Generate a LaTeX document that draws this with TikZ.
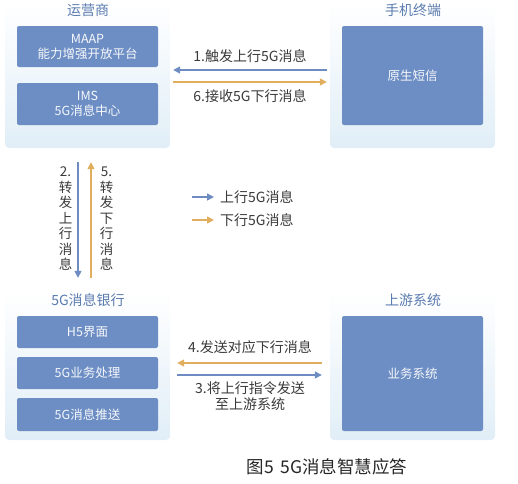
\documentclass[tikz,border=0pt]{standalone}
\usepackage{fontspec}
\setmainfont{Noto Sans CJK SC}
\usepackage{xcolor}
\usepackage{tikz}
\usetikzlibrary{positioning,arrows.meta}
\definecolor{BoxBlue}{HTML}{6D8EC4}
\definecolor{FlowBlue}{HTML}{6E8CC2}
\definecolor{FlowGold}{HTML}{E1AE5E}
\definecolor{TitleBlue}{HTML}{5B7CB0}
\definecolor{PanelBlue}{HTML}{E1EEF7}
\definecolor{LabelGray}{HTML}{3A3A3A}

\begin{document}
\begin{tikzpicture}[
  x=1pt, y=-1pt,
  panel/.style={rounded corners=4pt, top color=white, bottom color=PanelBlue, minimum width=165pt, inner sep=0pt},
  unit/.style={fill=BoxBlue, rounded corners=2pt, minimum width=141pt, inner sep=0pt, align=center, text=white!94!BoxBlue, font=\fontsize{12.5}{15}\selectfont},
  title/.style={text=TitleBlue, font=\fontsize{14}{16}\selectfont},
  msg/.style={text=LabelGray, align=center, font=\fontsize{14}{16}\selectfont},
  vmsg/.style={text=LabelGray, align=center, inner sep=1pt, font=\fontsize{13.5}{15.5}\selectfont},
  uparrow/.style={-{Triangle[length=7pt,width=7pt]}, line width=1.5pt, draw=FlowBlue},
  downarrow/.style={-{Triangle[length=7pt,width=7pt]}, line width=1.5pt, draw=FlowGold}
]
\useasboundingbox (0,0) rectangle (518,483);

% panels
\node[panel, minimum height=146pt] (operator) at (87.5,75) {};
\node[panel, minimum height=146pt] (phone) at (412.5,75) {};
\node[panel, minimum height=150pt] (bank) at (87.5,365) {};
\node[panel, minimum height=150pt] (upstream) at (412.5,365) {};

\node[title] (operatortitle) at (88,10) {运营商};
\node[title] (phonetitle) at (413,10) {手机终端};
\node[title] (banktitle) at (88,300) {5G消息银行};
\node[title] (upstreamtitle) at (413,300) {上游系统};

% inner units
\node[unit, minimum height=41pt] (maap) at (87.5,46.5) {MAAP\\能力增强开放平台};
\node[unit, minimum height=42pt] (ims) at (87.5,104) {IMS\\5G消息中心};
\node[unit, minimum height=99pt] (sms) at (412.5,75.5) {原生短信};
\node[unit, minimum height=32pt] (h5) at (87.5,332) {H5界面};
\node[unit, minimum height=32pt] (service) at (87.5,373) {5G业务处理};
\node[unit, minimum height=33pt] (push) at (87.5,414.5) {5G消息推送};
\node[unit, minimum height=115pt] (business) at (412.5,373.5) {业务系统};

% flows
\draw[uparrow, shorten <=3pt, shorten >=3pt] ([yshift=5pt]phone.west) -- ([yshift=5pt]operator.east)
  node[msg, midway, above=3pt] {1.触发上行5G消息};
\draw[downarrow, shorten <=3pt, shorten >=3pt] ([yshift=-7pt]operator.east) -- ([yshift=-7pt]phone.west)
  node[msg, midway, below=4pt] {6.接收5G下行消息};
\draw[uparrow, shorten <=14pt, shorten >=12pt] ([xshift=-9.5pt]operator.south) -- ([xshift=-9.5pt]bank.north)
  node[vmsg, midway, left=4pt] {2.\\转\\发\\上\\行\\消\\息};
\draw[downarrow, shorten <=12pt, shorten >=14pt] ([xshift=3.5pt]bank.north) -- ([xshift=3.5pt]operator.south)
  node[vmsg, midway, right=7pt] {5.\\转\\发\\下\\行\\消\\息};
\draw[downarrow, shorten <=8pt, shorten >=7pt] ([yshift=2pt]upstream.west) -- ([yshift=2pt]bank.east)
  node[msg, midway, above=5pt] {4.发送对应下行消息};
\draw[uparrow, shorten <=7pt, shorten >=8pt] ([yshift=-10pt]bank.east) -- ([yshift=-10pt]upstream.west)
  node[msg, midway, below=3pt] {3.将上行指令发送\\至上游系统};

% legend
\coordinate (legendup) at (192,197);
\coordinate (legenddown) at (192,220);
\node[msg, anchor=west, inner sep=0pt] (legenduptext) at (220,197) {上行5G消息};
\node[msg, anchor=west, inner sep=0pt] (legenddowntext) at (220,220) {下行5G消息};
\draw[uparrow] (legendup) -- ([xshift=-6pt]legenduptext.west);
\draw[downarrow] (legenddown) -- ([xshift=-6pt]legenddowntext.west);

% caption
\node[text=black!85, font=\fontsize{17.5}{20}\selectfont] (caption) at (327,467) {图5\hspace{0.4em}5G消息智慧应答};
\end{tikzpicture}
\end{document}
